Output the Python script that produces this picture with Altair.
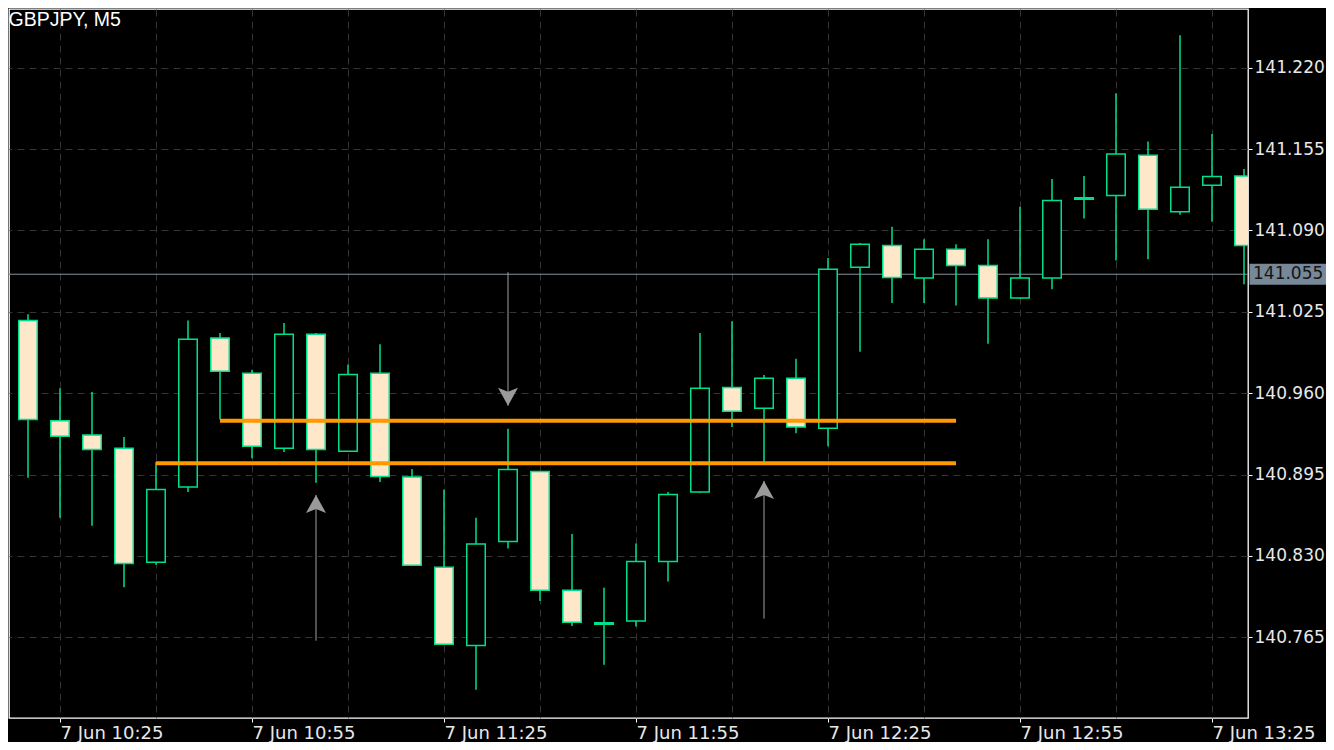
import altair as alt
import pandas as pd

# ---------------- data ----------------
symbol_title = "GBPJPY, M5"
date_label = "7 Jun"

times = ["10:15", "10:20", "10:25", "10:30", "10:35", "10:40", "10:45", "10:50",
         "10:55", "11:00", "11:05", "11:10", "11:15", "11:20", "11:25", "11:30",
         "11:35", "11:40", "11:45", "11:50", "11:55", "12:00", "12:05", "12:10",
         "12:15", "12:20", "12:25", "12:30", "12:35", "12:40", "12:45", "12:50",
         "12:55", "13:00", "13:05", "13:10", "13:15", "13:20", "13:25", "13:30"]
opens = [141.049, 141.018, 140.938, 140.9265, 140.916, 140.825, 140.885, 141.004,
         140.976, 140.916, 141.007, 140.9135, 140.976, 140.893, 140.821, 140.7585,
         140.8415, 140.8975, 140.8025, 140.776, 140.778, 140.8255, 140.881, 140.9645,
         140.948, 140.972, 140.932, 141.0605, 141.078, 141.052, 141.075, 141.062,
         141.036, 141.052, 141.1155, 141.118, 141.150, 141.105, 141.126, 141.1335]
highs = [141.056, 141.023, 140.964, 140.961, 140.925, 140.905, 141.018, 141.008,
         140.9785, 141.016, 141.008, 140.983, 140.999, 140.8995, 140.883, 140.8605,
         140.9315, 140.8975, 140.8475, 140.8045, 140.840, 140.881, 141.008, 141.0175,
         140.9745, 140.9875, 141.068, 141.080, 141.093, 141.083, 141.079, 141.083,
         141.109, 141.131, 141.1335, 141.1995, 141.161, 141.246, 141.167, 141.139]
lows = [141.016, 140.8925, 140.8605, 140.854, 140.805, 140.823, 140.881, 140.939,
        140.908, 140.913, 140.8885, 140.913, 140.889, 140.822, 140.759, 140.723,
        140.836, 140.794, 140.774, 140.743, 140.7735, 140.8095, 140.8805, 140.933,
        140.905, 140.928, 140.9175, 140.993, 141.032, 141.032, 141.030, 140.9995,
        141.0355, 141.043, 141.0995, 141.066, 141.067, 141.1025, 141.097, 141.047]
closes = [141.020, 140.939, 140.9255, 140.915, 140.824, 140.883, 141.003, 140.9775,
          140.9175, 141.007, 140.915, 140.975, 140.8935, 140.8225, 140.7595, 140.8395,
          140.899, 140.8025, 140.777, 140.776, 140.8255, 140.879, 140.964, 140.9455,
          140.972, 140.933, 141.059, 141.079, 141.0525, 141.075, 141.062, 141.036,
          141.052, 141.114, 141.1155, 141.151, 141.107, 141.1245, 141.133, 141.078]

price_ticks = [140.765, 140.830, 140.895, 140.960, 141.025, 141.090, 141.155, 141.220]
grid_times = ["10:25", "10:40", "10:55", "11:10", "11:25", "11:40", "11:55", "12:10",
              "12:25", "12:40", "12:55", "13:10", "13:25"]
label_times = ["10:25", "10:55", "11:25", "11:55", "12:25", "12:55", "13:25"]
current_price = 141.055

level_prices = [140.938, 140.904]
level_start = ["10:50", "10:40"]
level_end = ["12:45", "12:45"]

arrow_times = ["11:05", "11:35", "12:15"]
arrow_dirs = ["up", "down", "up"]
arrow_from = [140.7623, 141.0566, 140.7799]
arrow_to = [140.8787, 140.9500, 140.8899]

# ---------------- styling ----------------
GREEN = "#00E08C"
BEAR_FILL = "#FFE7CA"
ORANGE = "#FF9900"
GRID = "#343434"
TEXT = "#e8e8e8"
W, H = 1239, 709


def to_min(t):
    h, m = t.split(":")
    return (int(h) - 10) * 60 + int(m)


candles = pd.DataFrame({"time": times, "open": opens, "high": highs,
                        "low": lows, "close": closes})
candles["m"] = candles["time"].map(to_min)

levels = pd.DataFrame({"price": level_prices,
                       "m1": [to_min(t) for t in level_start],
                       "m2": [to_min(t) for t in level_end]})

arrows = pd.DataFrame({"m": [to_min(t) for t in arrow_times], "dir": arrow_dirs,
                       "p0": arrow_from, "p1": arrow_to})

cur = pd.DataFrame({"price": [current_price],
                    "label": [f"{current_price:.3f}"]})
title_df = pd.DataFrame({"t": [symbol_title]})

grid_vals = [to_min(t) for t in grid_times]
label_vals = [to_min(t) for t in label_times]
label_test = " || ".join(f"datum.value == {v}" for v in label_vals)

XS = alt.Scale(domain=[17.03125, 210.625], nice=False, zero=False, padding=0)
YS = alt.Scale(domain=[140.7005, 141.2669], nice=False, zero=False, padding=0)

x_axis = alt.Axis(
    values=grid_vals, title=None, grid=True, gridDash=[7, 5], gridColor=GRID,
    labelExpr=f"({label_test}) ? '{date_label} ' + (10 + floor(datum.value / 60)) + ':' + (datum.value % 60) : ''",
    labelAlign="left", labelFlush=False, labelOverlap=False, labelPadding=2,
    labelBaseline="top", tickSize=4, labelFontSize=18,
    tickColor={"condition": {"test": label_test, "value": "#ffffff"}, "value": "transparent"},
)
y_axis = alt.Axis(
    values=price_ticks, orient="right", title=None, format=".3f", grid=True,
    gridDash=[7, 5], gridColor=GRID, tickSize=4, tickColor="#ffffff",
    labelPadding=2, labelAlign="left", labelBaseline="middle", labelFontSize=17,
    labelFlush=False, labelOverlap=False,
)


def X(field):
    return alt.X(field, scale=XS, axis=x_axis)


def Y(field):
    return alt.Y(field, scale=YS, axis=y_axis)


base = alt.Chart(candles)

price_line = alt.Chart(cur).mark_rule(color="#8a929c", strokeWidth=1, clip=True).encode(
    y=Y("price:Q")
)

wicks = base.mark_rule(color=GREEN, strokeWidth=1.5, clip=True).encode(
    x=X("m:Q"), y=Y("low:Q"), y2="high:Q",
)

bodies = base.transform_filter("datum.open != datum.close").mark_bar(
    size=18.5, stroke=GREEN, strokeWidth=1.5, clip=True
).encode(
    x=X("m:Q"), y=Y("open:Q"), y2="close:Q",
    fill=alt.condition("datum.close < datum.open", alt.value(BEAR_FILL), alt.value("#000000")),
)

dojis = base.transform_filter("datum.open == datum.close").mark_tick(
    orient="horizontal", size=20, thickness=3, color=GREEN, opacity=1, clip=True
).encode(
    x=X("m:Q"), y=Y("open:Q"),
)

level_lines = alt.Chart(levels).mark_rule(color=ORANGE, strokeWidth=4, clip=True).encode(
    x=X("m1:Q"), x2="m2:Q", y=Y("price:Q"),
)

shafts = alt.Chart(arrows).mark_rule(color="#a0a0a0", strokeWidth=1, clip=True).encode(
    x=X("m:Q"), y=Y("p0:Q"), y2="p1:Q",
)

heads_up = alt.Chart(arrows).transform_filter("datum.dir == 'up'").mark_point(
    shape="M0,0L1,1.8L0,1.4L-1,1.8Z", size=400, filled=True, color="#9a9a9a",
    opacity=1, strokeWidth=0, clip=True
).encode(x=X("m:Q"), y=Y("p1:Q"))

heads_down = alt.Chart(arrows).transform_filter("datum.dir == 'down'").mark_point(
    shape="M0,0L1,-1.8L0,-1.4L-1,-1.8Z", size=400, filled=True, color="#9a9a9a",
    opacity=1, strokeWidth=0, clip=True
).encode(x=X("m:Q"), y=Y("p1:Q"))

price_box = alt.Chart(cur).transform_calculate(
    lo="datum.price - 0.0084", hi="datum.price + 0.0084"
).mark_rect(color="#778899", clip=False).encode(
    y=Y("lo:Q"), y2="hi:Q",
    x=alt.value(W + 1.5),
    x2=alt.value(W + 84),
)

price_text = alt.Chart(cur).mark_text(
    align="left", baseline="middle", font="DejaVu Sans", fontSize=17,
    color="#141414", clip=False
).encode(
    y=Y("price:Q"),
    x=alt.value(W + 5),
    text="label:N",
)

title_text = alt.Chart(title_df).mark_text(
    align="left", baseline="alphabetic", font="Liberation Sans", fontSize=19.5,
    color="#ffffff", clip=False
).encode(
    x=alt.value(-0.5),
    y=alt.value(17),
    text="t:N",
)

chart = alt.layer(
    price_line, wicks, bodies, dojis, level_lines, shafts, heads_up, heads_down,
    price_box, price_text, title_text
).properties(
    width=W, height=H, background="#000000",
    padding={"left": 1, "top": 1, "right": 78, "bottom": 24},
    autosize=alt.AutoSizeParams(type="none"),
).configure_view(
    stroke="#ffffff", strokeWidth=1.3, fill="#000000"
).configure_axis(
    labelFont="DejaVu Sans", labelColor=TEXT, domain=False,
    tickWidth=1,
)

chart.save("out.html", embed_options={"renderer": "svg", "actions": False})
